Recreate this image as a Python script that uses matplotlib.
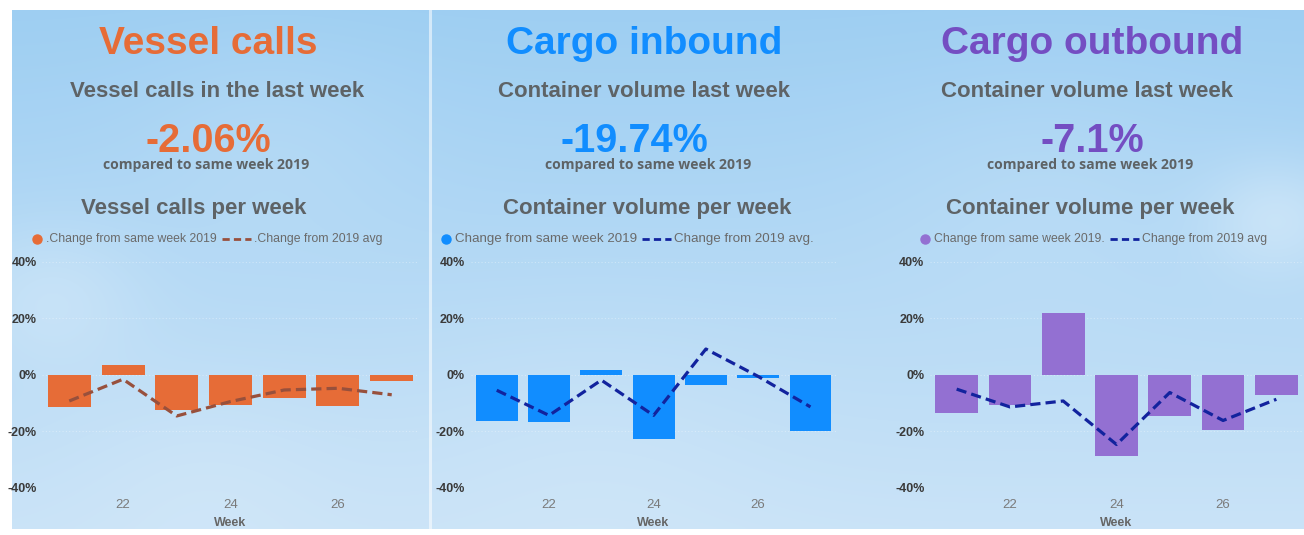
import numpy as np
import matplotlib
matplotlib.use("Agg")
import matplotlib.pyplot as plt
from matplotlib.lines import Line2D

# ---------------- data ----------------
weeks = [21, 22, 23, 24, 25, 26, 27]
week_ticks = [22, 24, 26]
y_ticks = [-40, -20, 0, 20, 40]

vessel_same_week = [-11.2, 3.5, -12.4, -10.6, -8.2, -10.8, -2.06]
vessel_vs_avg = [-9.2, -1.5, -14.5, -9.4, -5.3, -4.7, -7.0]

inbound_same_week = [-16.4, -16.5, 1.8, -22.6, -3.7, -1.2, -19.74]
inbound_vs_avg = [-5.4, -14.3, -1.8, -14.3, 9.2, -0.5, -11.3]

outbound_same_week = [-13.5, -10.6, 22.1, -28.6, -14.5, -19.4, -7.1]
outbound_vs_avg = [-5.0, -11.3, -9.2, -24.6, -6.2, -16.1, -8.6]

panel_titles = ["Vessel calls", "Cargo inbound", "Cargo outbound"]
panel_subtitles = ["Vessel calls in the last week", "Container volume last week",
                   "Container volume last week"]
panel_kpis = ["-2.06%", "-19.74%", "-7.1%"]
kpi_caption = "compared to same week 2019"
chart_titles = ["Vessel calls per week", "Container volume per week",
                "Container volume per week"]
legend_bar_labels = [".Change from same week 2019", "Change from same week 2019",
                     "Change from same week 2019."]
legend_line_labels = [".Change from 2019 avg", "Change from 2019 avg.",
                      "Change from 2019 avg"]

# ---------------- styling ----------------
W, H = 1304, 535
title_colors = ["#E66C37", "#118DFF", "#744EC2"]
bar_colors = ["#E66C37", "#118DFF", "#9370D2"]
line_colors = ["#98503C", "#12239E", "#12239E"]
gray = "#5E6366"
legend_gray = "#6A6A6A"

fig = plt.figure(figsize=(W / 100, H / 100), dpi=100)
fig.patch.set_facecolor("white")


def fx(px):
    return px / W


def fy(py):
    return 1 - py / H


# background sky
bg = fig.add_axes([fx(12), fy(529), fx(W - 12), 519 / H], zorder=-10)
yy, xx = np.mgrid[0:1:260j, 0:1:650j]
top = np.array([0.62, 0.81, 0.95])
bot = np.array([0.79, 0.89, 0.97])
img = top[None, None, :] * (1 - yy[..., None]) + bot[None, None, :] * yy[..., None]
for cx, cy, r, a in [(0.03, 0.55, 0.10, 0.22), (0.2, 0.25, 0.15, 0.10), (0.98, 0.4, 0.08, 0.3),
                     (0.8, 0.35, 0.18, 0.10), (0.45, 0.85, 0.2, 0.10), (0.15, 0.9, 0.15, 0.12)]:
    g = np.exp(-(((xx - cx) * 2) ** 2 + (yy - cy) ** 2) / (2 * r ** 2)) * a
    img = img * (1 - g[..., None]) + 1.0 * g[..., None]
bg.imshow(np.clip(img, 0, 1), aspect="auto", extent=[0, 1, 0, 1], interpolation="bilinear")
bg.set_axis_off()

# divider
fig.add_artist(Line2D([fx(429.5), fx(429.5)], [fy(10), fy(529)], color="white",
                      alpha=0.55, lw=2.2, zorder=-5))

axes_x = [(42.4, 418.6), (470.6, 836.6), (930.0, 1303.0)]
title_x = [208, 644, 1092]
sub_x = [217, 644, 1087]
kpi_x = [208, 634, 1092]
cap_x = [206, 648, 1090]
ct_x = [194, 647, 1090]
leg_marker_x = [37, 446, 925]
leg_size = [8.8, 9.6, 8.8]

series_bar = [vessel_same_week, inbound_same_week, outbound_same_week]
series_line = [vessel_vs_avg, inbound_vs_avg, outbound_vs_avg]

renderer = fig.canvas.get_renderer()

for i in range(3):
    fig.text(fx(title_x[i]), fy(54), panel_titles[i], ha="center", va="baseline",
             fontsize=28, fontweight="bold", color=title_colors[i],
             family="Liberation Sans")
    fig.text(fx(sub_x[i]), fy(97), panel_subtitles[i], ha="center", va="baseline",
             fontsize=16, fontweight="bold", color=gray, family="Liberation Sans")
    fig.text(fx(kpi_x[i]), fy(152), panel_kpis[i], ha="center", va="baseline",
             fontsize=28.5, fontweight="bold", color=title_colors[i],
             family="Liberation Sans")
    fig.text(fx(cap_x[i]), fy(169), kpi_caption, ha="center", va="baseline",
             fontsize=10.1, fontweight="bold", color=gray, family="Open Sans")
    fig.text(fx(ct_x[i]), fy(214), chart_titles[i], ha="center", va="baseline",
             fontsize=16, fontweight="bold", color=gray, family="Liberation Sans")

    x0, x1 = axes_x[i]
    ax = fig.add_axes([fx(x0), fy(488), (x1 - x0) / W, 226 / H])
    ax.patch.set_alpha(0)
    ax.bar(weeks, series_bar[i], width=0.8, color=bar_colors[i], zorder=3)
    ax.plot(weeks, series_line[i], color=line_colors[i], lw=2.3,
            linestyle=(0, (3.2, 1.6)), zorder=4)
    ax.set_xlim(20.5, 27.5)
    ax.set_ylim(-40, 40)
    ax.set_yticks(y_ticks)
    ax.set_yticklabels([f"{v}%" for v in y_ticks], fontsize=9, fontweight="bold",
                       color="#3A3A3A", family="Liberation Sans")
    ax.set_xticks(week_ticks)
    ax.set_xticklabels([str(v) for v in week_ticks], fontsize=9.5, color="#7A7A7A",
                       family="Liberation Sans")
    ax.tick_params(axis="both", length=0)
    ax.tick_params(axis="y", pad=4)
    ax.tick_params(axis="x", pad=8)
    ax.set_xlabel("Week", fontsize=9, fontweight="bold", color="#666666",
                  family="Liberation Sans", labelpad=4)
    for s in ax.spines.values():
        s.set_visible(False)
    ax.grid(axis="y", color="white", alpha=0.35, linestyle=(0, (1, 2)), lw=0.8, zorder=0)

    # legend (laid out manually, left to right)
    ly = fy(239)
    mx = leg_marker_x[i]
    fig.add_artist(Line2D([fx(mx)], [ly], marker="o", markersize=6.5,
                          color=bar_colors[i], linestyle="none"))
    t1 = fig.text(fx(mx + 9), ly, legend_bar_labels[i], ha="left", va="center",
                  fontsize=leg_size[i], color=legend_gray, family="Liberation Sans")
    e1 = t1.get_window_extent(renderer)
    dx0 = e1.x1 + 5
    fig.add_artist(Line2D([fx(dx0), fx(dx0 + 29)], [ly, ly], color=line_colors[i],
                          lw=2.0, linestyle=(0, (2.6, 1.5))))
    fig.text(fx(dx0 + 32), ly, legend_line_labels[i], ha="left", va="center",
             fontsize=leg_size[i], color=legend_gray, family="Liberation Sans")

fig.savefig("out.png", dpi=100)
